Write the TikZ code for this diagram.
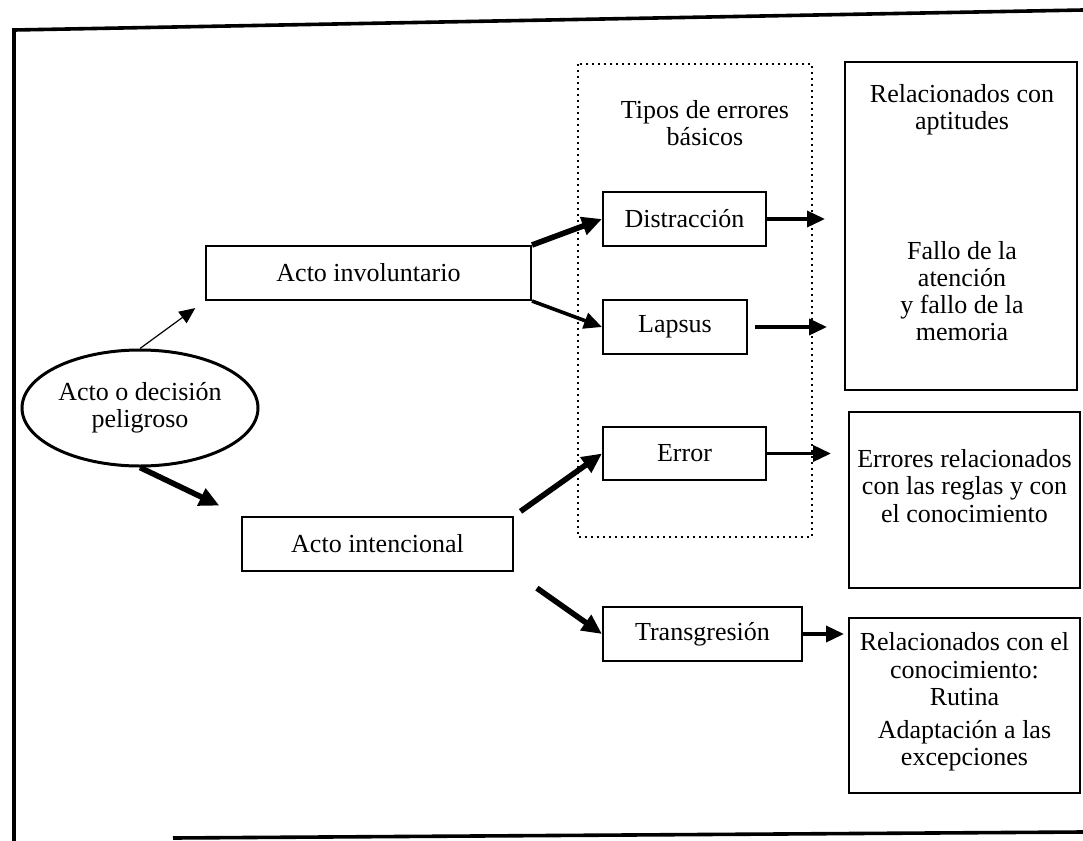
\documentclass[tikz,border=0pt]{standalone}
\usepackage{fontspec}
\setmainfont{Liberation Serif}
\usepackage{tikz}
\usetikzlibrary{shapes.geometric, arrows, arrows.meta}

\tikzset{
    caja/.style={draw, line width=1pt, inner sep=0pt, minimum height=27pt},
    texto/.style={align=center, inner sep=0pt, font=\fontsize{13}{13.6}\selectfont},
    gruesa/.style={-{Triangle[length=10pt, width=9pt]}, line width=2.8pt},
    media/.style={-{Triangle[length=9pt, width=8pt]}, line width=1.8pt},
    fina/.style={-{Triangle[length=8pt, width=7pt]}, line width=0.6pt}
}

\begin{document}
\begin{tikzpicture}[x=0.5pt, y=-0.5pt]
            \useasboundingbox (0,0) rectangle (1083,841);
            % marco
            \draw[line width=1.8pt] (14,841) -- (14,30) -- (1083,10);
            \draw[line width=1.8pt] (173,838) -- (1083,832);
            % caja punteada
            \draw[dotted, line width=1pt] (578,64) rectangle (812,537);
            \node[texto] at (705,123) (tipos) {Tipos de errores\\b\'asicos};

            \node[draw, ellipse, line width=1.5pt, minimum width=118pt, minimum height=58pt, texto] at (140,408) (peligro) {Acto o decisi\'on\\peligroso};
            \node[caja, texto, minimum width=162.5pt, minimum height=27pt] at (368.5,273) (invol) {Acto involuntario};
            \node[caja, texto, minimum width=135.5pt, minimum height=27pt] at (377.5,544) (intenc) {Acto intencional};

            \node[caja, texto, minimum width=81.5pt, minimum height=27pt] at (684.5,219) (distr) {Distracci\'on};
            \node[caja, texto, minimum width=72pt, minimum height=27pt] at (675,327) (lapsus) {Lapsus};
            \node[caja, texto, minimum width=81.5pt, minimum height=26.5pt] at (684.5,453.5) (error) {Error};
            \node[caja, texto, minimum width=99.5pt, minimum height=27pt] at (702.5,634) (transg) {Transgresi\'on};

            \node[caja, minimum width=116pt, minimum height=164pt] at (961,226) (aptit) {};
            \node[texto] at (962,110) (aptittxt) {Relacionados con\\aptitudes};
            \node[texto] at (962,291) (fallo) {Fallo de la\\atenci\'on\\y fallo de la\\memoria};
            \node[caja, minimum width=115.5pt, minimum height=88pt] at (964.5,500) (reglas) {};
            \node[texto] at (964.5,486) (reglastxt) {Errores relacionados\\con las reglas y con\\el conocimiento};
            \node[caja, minimum width=115.5pt, minimum height=87.5pt] at (964.5,705.5) (conoc) {};
            \node[texto] at (964.5,702) (conoctxt) {Relacionados con el\\conocimiento:\\Rutina\\[3pt]Adaptaci\'on a las\\excepciones};

            \draw[fina, shorten >=6pt] (peligro.north) -- (invol.south west);
            \draw[gruesa, shorten >=12pt] (peligro.south) -- (intenc.north west);
            \draw[gruesa] (invol.north east) -- (distr.west);
            \draw[media] (invol.south east) -- (lapsus.west);
            \draw[gruesa, shorten <=4pt] (intenc.north east) -- (error.west);
            \draw[gruesa, shorten <=14pt] (intenc.south east) -- (transg.west);

            \draw[media, shorten >=9.5pt] (distr.east) -- (distr.east -| aptit.west);
            \draw[media, shorten <=3.5pt, shorten >=8.5pt] (lapsus.east) -- (lapsus.east -| aptit.west);
            \draw[media, shorten >=8.5pt] (error.east) -- (error.east -| reglas.west);
            \draw[media, shorten >=2pt] (transg.east) -- (transg.east -| conoc.west);
        \end{tikzpicture}
\end{document}
